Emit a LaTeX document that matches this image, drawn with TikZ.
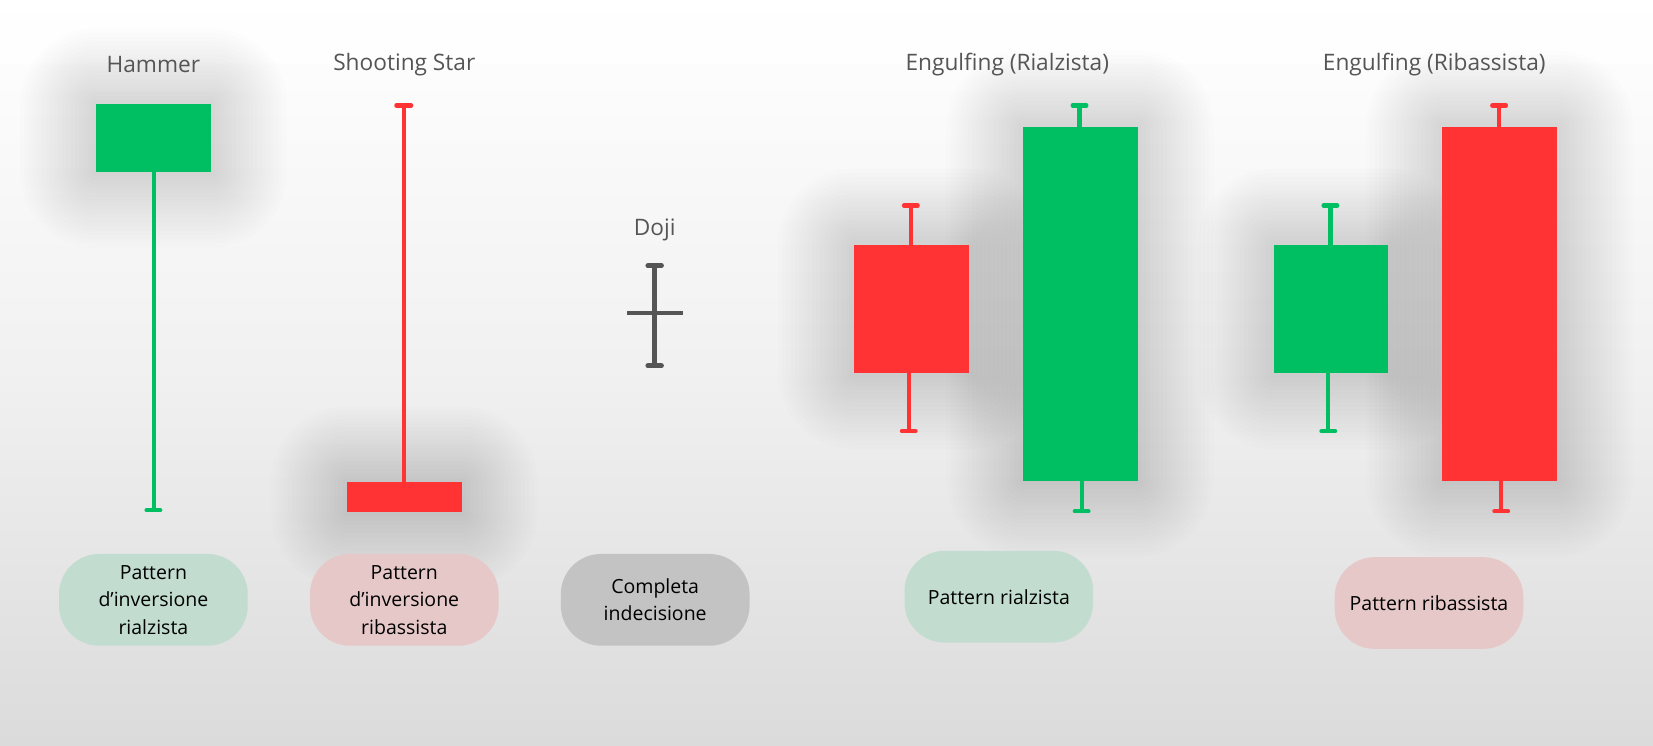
\documentclass[tikz,border=0pt]{standalone}
\usepackage{fontspec}
\setmainfont{Open Sans}
\definecolor{cgreen}{RGB}{0,191,99}
\definecolor{cred}{RGB}{255,51,51}
\definecolor{cdoji}{RGB}{85,85,85}
\definecolor{ctitle}{RGB}{85,85,85}
\definecolor{pgreen}{RGB}{194,221,208}
\definecolor{pred}{RGB}{230,200,200}
\definecolor{pgray}{RGB}{195,195,195}
\definecolor{bgbot}{RGB}{219,219,219}
\newcommand\glowbox[4]{%
  \foreach \r in {4,8,...,72} {%
    \fill[black, opacity=0.0065, rounded corners=\r pt] (#1-\r,#2-\r) rectangle (#3+\r,#4+\r);
  }%
}
\tikzset{
  gbody/.style={fill=cgreen},
  rbody/.style={fill=cred},
  gwick/.style={draw=cgreen, line width=4pt},
  rwick/.style={draw=cred, line width=4pt},
  gcap/.style={draw=cgreen, line width=4pt, line cap=round},
  rcap/.style={draw=cred, line width=4pt, line cap=round},
  title/.style={text=ctitle, font=\fontsize{21.5}{26}\selectfont},
  pill/.style={rounded corners=38pt, minimum width=179pt, minimum height=87pt, inner sep=0pt, align=center, text=black, font=\fontsize{18.5}{26}\selectfont},
}
\begin{document}
\begin{tikzpicture}[x=1pt,y=-1pt]
\useasboundingbox (0,0) rectangle (1568,707);
\shade[top color=white, bottom color=bgbot, middle color=white!60!bgbot] (0,0) rectangle (1568,707);
\fill[white, opacity=0.6] (0,0) rectangle (1568,60);

% glows
\glowbox{91}{99}{200}{163}
\glowbox{329}{457}{438}{486}
\glowbox{810}{232}{919}{354}
\glowbox{970}{120}{1079}{456}
\glowbox{1208}{232}{1317}{354}
\glowbox{1368}{120}{1477}{456}

% titles
\node[title] (t1) at (145.5,61) {Hammer};
\node[title] (t2) at (383.5,61) {Shooting Star};
\node[title] (t3) at (621,218) {Doji};
\node[title] (t4) at (955.5,61) {Engulfing (Rialzista)};
\node[title] (t5) at (1360.5,61) {Engulfing (Ribassista)};

% Hammer
\fill[gbody] (91,99) rectangle (200,163);
\draw[gwick] (146,163) -- (146,484);
\draw[gcap] (139,484) -- (152,484);

% Shooting star
\fill[rbody] (329,457) rectangle (438,486);
\draw[rwick] (383,100) -- (383,457);
\draw[rcap] (376,100) -- (390,100);

% Doji
\draw[draw=cdoji, line width=4.5pt] (621,252) -- (621,347);
\draw[draw=cdoji, line width=4.5pt, line cap=round] (614.5,252) -- (627.5,252);
\draw[draw=cdoji, line width=4.5pt, line cap=round] (614.5,347) -- (627.5,347);
\draw[draw=cdoji, line width=4.5pt] (595,297) -- (648,297);

% Engulfing rialzista
\draw[rwick] (864,195) -- (864,232);
\draw[rcap] (857.5,195) -- (870.5,195);
\draw[rwick] (862,354) -- (862,409);
\draw[rcap] (855.5,409) -- (868.5,409);
\fill[rbody] (810,232) rectangle (919,354);
\draw[gwick] (1024,100) -- (1024,120);
\draw[gcap] (1017.5,100) -- (1030.5,100);
\draw[gwick] (1026,456) -- (1026,485);
\draw[gcap] (1019.5,485) -- (1032.5,485);
\fill[gbody] (970,120) rectangle (1079,456);

% Engulfing ribassista
\draw[gwick] (1262,195) -- (1262,232);
\draw[gcap] (1255.5,195) -- (1268.5,195);
\draw[gwick] (1260,354) -- (1260,409);
\draw[gcap] (1253.5,409) -- (1266.5,409);
\fill[gbody] (1208,232) rectangle (1317,354);
\draw[rwick] (1422,100) -- (1422,120);
\draw[rcap] (1415.5,100) -- (1428.5,100);
\draw[rwick] (1424,456) -- (1424,485);
\draw[rcap] (1417.5,485) -- (1430.5,485);
\fill[rbody] (1368,120) rectangle (1477,456);

% pills
\node[pill, fill=pgreen] (p1) at (145.5,569) {Pattern\\d’inversione\\rialzista};
\node[pill, fill=pred] (p2) at (383.5,569) {Pattern\\d’inversione\\ribassista};
\node[pill, fill=pgray] (p3) at (621.5,569) {Completa\\indecisione};
\node[pill, fill=pgreen] (p4) at (947.5,566) {Pattern rialzista};
\node[pill, fill=pred] (p5) at (1355.5,572) {Pattern ribassista};
\end{tikzpicture}
\end{document}
